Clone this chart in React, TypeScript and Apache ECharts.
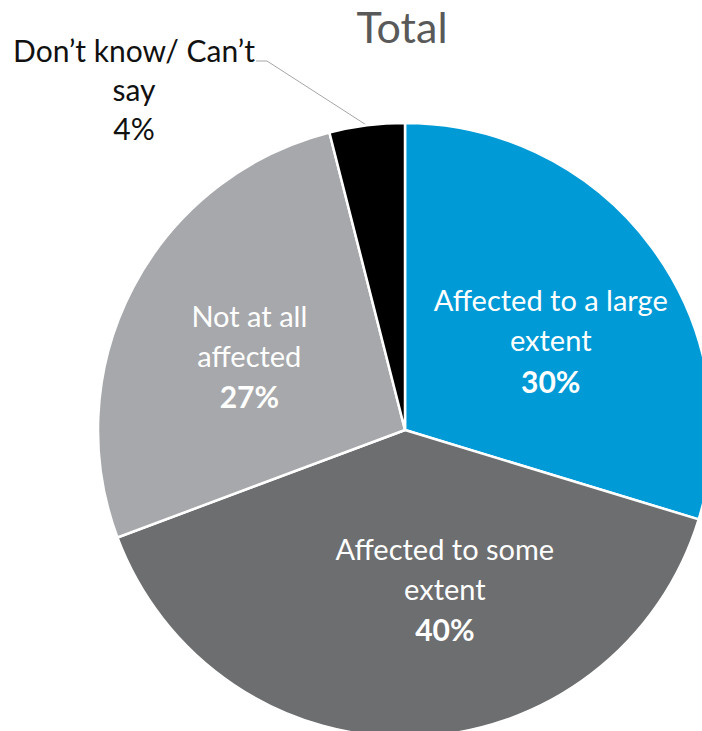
import React, { useEffect, useRef } from "react";
import * as echarts from "echarts";

const categories = [
  "Affected to a large extent",
  "Affected to some extent",
  "Not at all affected",
  "Don\u2019t know/ Can\u2019t say",
];
const labelLines = [
  ["Affected to a large", "extent"],
  ["Affected to some", "extent"],
  ["Not at all", "affected"],
  ["Don\u2019t know/ Can\u2019t", "say"],
];
const values = [30, 40, 27, 4];
const colors = ["#009bd7", "#6d6e70", "#a7a8ab", "#000000"];
const insideShift = [
  [20, 4],
  [35, 3],
  [-17, -1],
];

export default function App() {
  const ref = useRef<HTMLDivElement>(null);
  useEffect(() => {
    if (!ref.current) return;
    const chart = echarts.init(ref.current, null, { renderer: "svg" });
    const font = "Lato, 'Open Sans', sans-serif";
    const data = values.map((v, i) => {
      const outside = i === 3;
      const lines = labelLines[i];
      return {
        value: v,
        name: categories[i],
        itemStyle: { color: colors[i] },
        label: outside
          ? {
              show: true,
              position: "outside",
              formatter: `{o|${lines[0]}}\n{o|${lines[1]}}\n{o|${v}%}`,
              rich: {
                o: { fontFamily: font, fontSize: 30, color: "#111111", lineHeight: 39, align: "center" },
              },
            }
          : {
              show: true,
              position: "inside",
              formatter: `{n|${lines[0]}}\n{n|${lines[1]}}\n{p|${v}%}`,
              rich: {
                n: { fontFamily: font, fontSize: 29, color: "#ffffff", lineHeight: 40, align: "center" },
                p: { fontFamily: font, fontSize: 30, fontWeight: "bold", color: "#ffffff", lineHeight: 42, align: "center" },
              },
            },
        labelLine: outside
          ? { show: true, lineStyle: { color: "#a6a6a6", width: 1 } }
          : { show: false },
      };
    });
    chart.setOption({
      animation: false,
      backgroundColor: "#ffffff",
      title: {
        text: "Total",
        left: 397,
        top: 0,
        textAlign: "center",
        textStyle: { fontFamily: font, fontSize: 43, fontWeight: "normal", color: "#595959" },
      },
      series: [
        {
          type: "pie",
          center: [405, 430],
          radius: 307,
          startAngle: 90,
          clockwise: true,
          avoidLabelOverlap: false,
          itemStyle: { borderColor: "#ffffff", borderWidth: 2.5 },
          data,
          labelLayout: (params: any) => {
            const i = params.dataIndex;
            if (i === 3) {
              const start = params.labelLinePoints ? params.labelLinePoints[0] : [368, 125];
              return {
                x: 134,
                y: 89,
                align: "center",
                verticalAlign: "middle",
                labelLinePoints: [start, [267, 61], [256, 61]],
              };
            }
            const s = insideShift[i];
            return { dx: s[0], dy: s[1] };
          },
        },
      ],
    });
    return () => chart.dispose();
  }, []);
  return (
    <div
      ref={ref}
      style={{ position: "absolute", left: 0, top: 0, width: 702, height: 731 }}
    />
  );
}
